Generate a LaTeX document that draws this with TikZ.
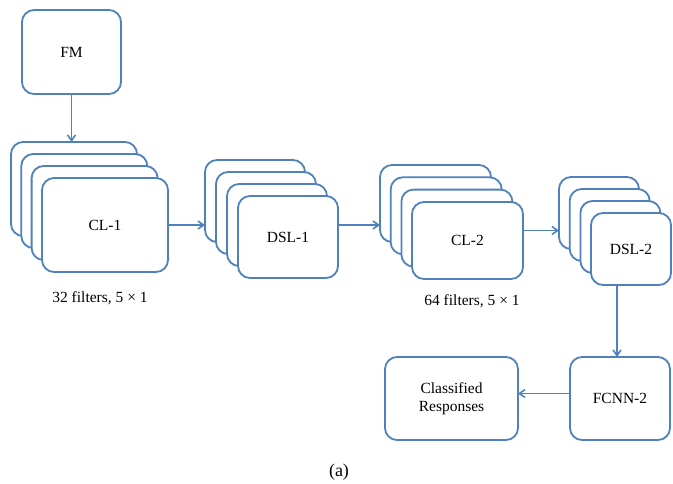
\documentclass[tikz,border=0pt]{standalone}
\usepackage{fontspec}
\setmainfont{Liberation Serif}
\usetikzlibrary{arrows.meta}
\definecolor{boxblue}{RGB}{79,129,189}

\begin{document}
\begin{tikzpicture}[x=1pt, y=-1pt, every node/.style={font=\fontsize{15.5}{18}\selectfont}, >={Straight Barb[length=2mm,width=2.8mm]},
	card/.style={draw=boxblue, line width=1.8pt, rounded corners=12pt, fill=white, anchor=north west, inner sep=0pt, outer sep=0pt},
	link/.style={->, draw=boxblue, line width=1.6pt}]
	\useasboundingbox (0,0) rectangle (673,483);
	% input
	\node[card, minimum width=99pt, minimum height=84pt] (fm) at (22,10) {FM};
	% first convolution layer
	\foreach \i in {1,2,3}
		\node[card, minimum width=126pt, minimum height=94pt] (cl1-\i) at (11+10.3*\i-10.3, 142+12*\i-12) {};
	\node[card, minimum width=126pt, minimum height=94pt] (cl1) at (42,178) {CL-1};
	% first down-sampling layer
	\foreach \i in {1,2,3}
		\node[card, minimum width=100pt, minimum height=82pt] (dsl1-\i) at (205+11*\i-11, 160+12*\i-12) {};
	\node[card, minimum width=100pt, minimum height=82pt] (dsl1) at (238,196) {DSL-1};
	% second convolution layer
	\foreach \i in {1,2,3}
		\node[card, minimum width=111pt, minimum height=77pt] (cl2-\i) at (380+10.7*\i-10.7, 165+12.3*\i-12.3) {};
	\node[card, minimum width=111pt, minimum height=77pt] (cl2) at (412,202) {CL-2};
	% second down-sampling layer
	\foreach \i in {1,2,3}
		\node[card, minimum width=80pt, minimum height=72pt] (dsl2-\i) at (559+10.7*\i-10.7, 177+12*\i-12) {};
	\node[card, minimum width=80pt, minimum height=72pt] (dsl2) at (591,213) {DSL-2};
	% output
	\node[card, minimum width=100pt, minimum height=83pt] (fcnn) at (570,357) {FCNN-2};
	\node[card, minimum width=133pt, minimum height=83pt, align=center] (cls) at (385,357) {Classified\\Responses};
	% captions
	\node (flt1) at (100,298) {32 filters, 5 × 1};
	\node (flt2) at (472,301) {64 filters, 5 × 1};
	\node[font=\fontsize{18}{21}\selectfont] (cap) at (339,472) {(a)};
	% connectors
	\draw[link] (fm.south) -- (fm.south |- cl1-1.north);
	\draw[link] (cl1.east) -- (cl1.east -| dsl1-1.west);
	\draw[link] ([yshift=12pt]dsl1.east) -- ([yshift=12pt]dsl1.east -| cl2-1.west);
	\draw[link] ([yshift=10pt]cl2.east) -- ([yshift=10pt]cl2.east -| dsl2-1.west);
	\draw[link] ([xshift=-14pt]dsl2.south) -- ([xshift=-14pt]dsl2.south |- fcnn.north);
	\draw[link] ([yshift=5pt]fcnn.west) -- ([yshift=5pt]fcnn.west -| cls.east);
\end{tikzpicture}
\end{document}
